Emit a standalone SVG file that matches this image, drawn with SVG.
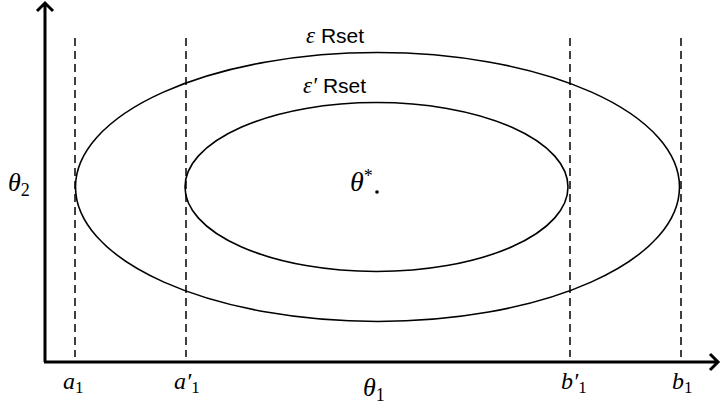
<svg xmlns="http://www.w3.org/2000/svg" width="721" height="406" viewBox="0 0 721 406">
<style>
.ax{stroke:#000;stroke-width:3;fill:none}
.dash{stroke:#000;stroke-width:1.5;stroke-dasharray:8,5;fill:none}
.ell{stroke:#000;stroke-width:1.6;fill:none}
.m{font-family:"Liberation Serif","DejaVu Serif",serif;font-style:italic;fill:#000}
.s{font-family:"Liberation Serif","DejaVu Serif",serif;font-style:normal}
.lbl{font-family:"Liberation Sans",Arial,sans-serif;font-size:21px;fill:#000}
</style>
<g id="axes">
<path class="ax" d="M45,362 V3 M37,11 L45,3 L53,11"/>
<path class="ax" d="M44,362 H718 M710,354 L718,362 L710,370"/>
</g>
<g id="connectors">
<line class="dash" x1="75" y1="38" x2="75" y2="357"/>
<line class="dash" x1="186" y1="38" x2="186" y2="357"/>
<line class="dash" x1="570" y1="38" x2="570" y2="357"/>
<line class="dash" x1="681" y1="38" x2="681" y2="357"/>
</g>
<g id="outer">
<ellipse class="ell" cx="377.5" cy="187" rx="302" ry="134.5"/>
<text class="lbl" x="306" y="43"><tspan class="m" font-size="23">ε</tspan> Rset</text>
</g>
<g id="inner">
<ellipse class="ell" cx="376.5" cy="187" rx="191.5" ry="84.5"/>
<text class="lbl" x="303" y="93"><tspan class="m" font-size="23">ε′</tspan> Rset</text>
</g>
<g id="center">
<text class="m" x="350" y="191" font-size="28">θ<tspan font-size="18" dy="-9" class="s">*</tspan></text>
<circle cx="377" cy="192" r="1.8" fill="#000"/>
</g>
<g id="labels">
<text class="m" x="8" y="191" font-size="26">θ<tspan class="s" font-size="18" dy="5">2</tspan></text>
<text class="m" x="363" y="396" font-size="26">θ<tspan class="s" font-size="18" dy="5">1</tspan></text>
<text class="m" x="63" y="389" font-size="24">a<tspan class="s" font-size="17" dy="4">1</tspan></text>
<text class="m" x="174" y="389" font-size="24">a′<tspan class="s" font-size="17" dy="4">1</tspan></text>
<text class="m" x="561" y="389" font-size="24">b′<tspan class="s" font-size="17" dy="4">1</tspan></text>
<text class="m" x="672" y="389" font-size="24">b<tspan class="s" font-size="17" dy="4">1</tspan></text>
</g>
</svg>
